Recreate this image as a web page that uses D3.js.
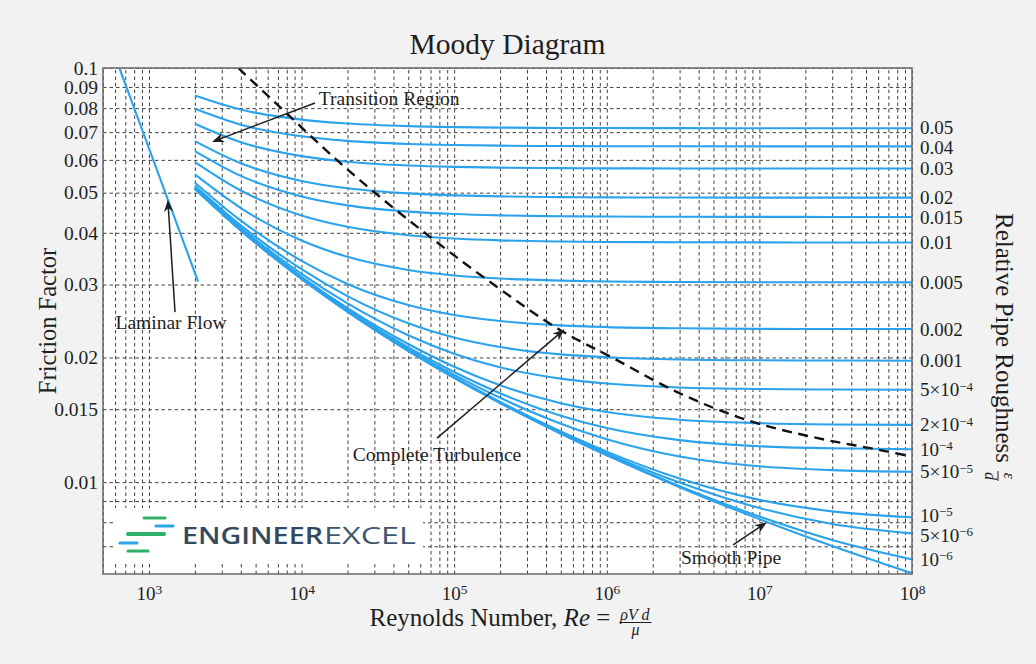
<!DOCTYPE html>
<html>
<head>
<meta charset="utf-8">
<script src="https://cdn.jsdelivr.net/npm/d3@7"></script>
<style>
  html, body { margin: 0; padding: 0; background: #f2f2f2; }
  svg { display: block; }
</style>
</head>
<body>
<svg id="chart" width="1036" height="664"></svg>
<script>
// Reynolds numbers at which the turbulent friction factors are tabulated
const reynolds = [2e3, 4e3, 1e4, 2e4, 5e4, 1e5, 2e5, 5e5, 1e6, 3e6, 1e7, 3e7, 1e8];

// Relative roughness of each turbulent curve (0 = smooth pipe)
const roughness = [0.05, 0.04, 0.03, 0.02, 0.015, 0.01, 0.005, 0.002, 0.001,
                   5e-4, 2e-4, 1e-4, 5e-5, 1e-5, 5e-6, 1e-6, 0];

// Labels written at the right end of each rough-pipe curve
const roughnessLabels = ["0.05", "0.04", "0.03", "0.02", "0.015", "0.01", "0.005",
                         "0.002", "0.001", "5×10^−4", "2×10^−4", "10^−4",
                         "5×10^−5", "10^−5", "5×10^−6", "10^−6"];

// Darcy friction factor of each curve at the Reynolds numbers above
const frictionFactors = [
  [0.08584, 0.07938, 0.07505, 0.07344, 0.07238, 0.07200, 0.07179, 0.07166, 0.07161, 0.07157, 0.07156, 0.07155, 0.07155],
  [0.07972, 0.07298, 0.06840, 0.06669, 0.06556, 0.06515, 0.06493, 0.06479, 0.06473, 0.06470, 0.06468, 0.06467, 0.06467],
  [0.07334, 0.06620, 0.06127, 0.05940, 0.05816, 0.05770, 0.05746, 0.05730, 0.05724, 0.05720, 0.05718, 0.05718, 0.05717],
  [0.06658, 0.05886, 0.05336, 0.05123, 0.04979, 0.04926, 0.04897, 0.04878, 0.04872, 0.04867, 0.04865, 0.04864, 0.04864],
  [0.06302, 0.05489, 0.04895, 0.04659, 0.04499, 0.04439, 0.04407, 0.04386, 0.04378, 0.04372, 0.04370, 0.04369, 0.04369],
  [0.05928, 0.05061, 0.04404, 0.04135, 0.03947, 0.03875, 0.03836, 0.03811, 0.03801, 0.03795, 0.03792, 0.03791, 0.03791],
  [0.05533, 0.04591, 0.03833, 0.03499, 0.03253, 0.03156, 0.03102, 0.03066, 0.03052, 0.03043, 0.03039, 0.03038, 0.03037],
  [0.05283, 0.04280, 0.03422, 0.03010, 0.02677, 0.02533, 0.02449, 0.02390, 0.02368, 0.02352, 0.02345, 0.02343, 0.02342],
  [0.05197, 0.04169, 0.03267, 0.02812, 0.02418, 0.02234, 0.02119, 0.02035, 0.02003, 0.01978, 0.01969, 0.01966, 0.01964],
  [0.05153, 0.04113, 0.03184, 0.02701, 0.02262, 0.02041, 0.01893, 0.01778, 0.01730, 0.01693, 0.01679, 0.01673, 0.01671],
  [0.05127, 0.04078, 0.03133, 0.02631, 0.02155, 0.01899, 0.01713, 0.01551, 0.01477, 0.01415, 0.01388, 0.01378, 0.01375],
  [0.05118, 0.04066, 0.03115, 0.02606, 0.02116, 0.01845, 0.01639, 0.01447, 0.01351, 0.01263, 0.01221, 0.01207, 0.01201],
  [0.05114, 0.04061, 0.03106, 0.02594, 0.02096, 0.01816, 0.01598, 0.01384, 0.01269, 0.01153, 0.01092, 0.01069, 0.01059],
  [0.05110, 0.04056, 0.03099, 0.02584, 0.02080, 0.01792, 0.01562, 0.01325, 0.01185, 0.01020, 0.009059, 0.008500, 0.008224],
  [0.05110, 0.04055, 0.03098, 0.02583, 0.02078, 0.01789, 0.01558, 0.01317, 0.01173, 0.009974, 0.008657, 0.007926, 0.007519],
  [0.05110, 0.04055, 0.03098, 0.02582, 0.02076, 0.01787, 0.01554, 0.01311, 0.01163, 0.009776, 0.008258, 0.007248, 0.006506],
  [0.05109, 0.04055, 0.03097, 0.02581, 0.02076, 0.01786, 0.01553, 0.01309, 0.01161, 0.009724, 0.008142, 0.007013, 0.006026]
];

// Laminar branch end points
const laminarRe = [600, 2100];
const laminarF = [0.1067, 0.03048];

// Boundary of the complete-turbulence zone
const turbulenceRe = [3850, 7560, 17870, 69500, 190900, 494000, 1.1e6, 2.89e6, 8.3e6, 2.25e7, 6.18e7, 9.0e7];
const turbulenceF = [0.1, 0.0792, 0.0590, 0.0391, 0.0296, 0.0233, 0.01993, 0.01650, 0.01412, 0.01284, 0.01195, 0.01162];

// Axis ticks
const yTickValues = [0.1, 0.09, 0.08, 0.07, 0.06, 0.05, 0.04, 0.03, 0.02, 0.015, 0.01];
const yTickLabels = ["0.1", "0.09", "0.08", "0.07", "0.06", "0.05", "0.04", "0.03", "0.02", "0.015", "0.01"];
const yMinorGrid = [0.009, 0.008, 0.007];
const xTickValues = [1e3, 1e4, 1e5, 1e6, 1e7, 1e8];
const xTickExponents = ["3", "4", "5", "6", "7", "8"];

// Annotations: text anchor, arrow tail and arrow tip, all in (Re, f)
const noteText = ["Transition Region", "Laminar Flow", "Complete Turbulence", "Smooth Pipe"];
const noteRe = [37500, 1395, 77200, 6.52e6];
const noteF = [0.0846, 0.02435, 0.01168, 0.00659];
const arrowFromRe = [12250, 1482, 77200, 6.72e6];
const arrowFromF = [0.0823, 0.02574, 0.01277, 0.00705];
const arrowToRe = [2590, 1330, 5.3e5, 1.12e7];
const arrowToF = [0.0663, 0.0481, 0.0234, 0.0080];

// ---------------------------------------------------------------------------
const W = 1036, H = 664;
const M = { left: 103, right: 912, top: 68, bottom: 574 };
const SERIF = "'Liberation Serif', 'DejaVu Serif', serif";
const BLUE = "#2ba3ec";
const INK = "#1e1e1e";

const svg = d3.select("#chart");
svg.append("rect").attr("width", W).attr("height", H).attr("fill", "#f2f2f2");

const x = d3.scaleLog().domain([500, 1e8]).range([M.left, M.right]);
const y = d3.scaleLog().domain([0.006, 0.1]).range([M.bottom, M.top]);

svg.append("defs").append("clipPath").attr("id", "plot-clip")
  .append("rect").attr("x", M.left).attr("y", M.top)
  .attr("width", M.right - M.left).attr("height", M.bottom - M.top);

svg.append("rect").attr("x", M.left).attr("y", M.top)
  .attr("width", M.right - M.left).attr("height", M.bottom - M.top)
  .attr("fill", "#ffffff");

// Dashed grid on every decade multiple and on the labelled friction factors
const gridStyle = g => {
  g.select(".domain").remove();
  g.selectAll(".tick line")
    .attr("stroke", "#404040").attr("stroke-width", 1)
    .attr("stroke-dasharray", "3.5,3");
};
svg.append("g")
  .attr("transform", `translate(0,${M.bottom})`)
  .call(d3.axisBottom(x).tickValues(x.ticks()).tickSize(-(M.bottom - M.top)).tickFormat(""))
  .call(gridStyle);
svg.append("g")
  .attr("transform", `translate(${M.left},0)`)
  .call(d3.axisLeft(y).tickValues(yTickValues.concat(yMinorGrid)).tickSize(-(M.right - M.left)).tickFormat(""))
  .call(gridStyle);

// Logo block in the lower-left corner of the plot
const logo = svg.append("g").attr("transform", `translate(${M.left + 10},${M.bottom - 66})`);
logo.append("rect").attr("width", 310).attr("height", 53).attr("fill", "#ffffff");
const logoBars = [
  { x1: 31, x2: 52, y: 10, c: "#2fb06a", w: 3 },
  { x1: 43, x2: 60, y: 18, c: "#2ea5e8", w: 3.2 },
  { x1: 15, x2: 51, y: 26, c: "#2fb06a", w: 4 },
  { x1: 7, x2: 24, y: 35, c: "#2ea5e8", w: 3.2 },
  { x1: 15, x2: 35, y: 43, c: "#2fb06a", w: 3 }
];
logo.selectAll("line.bar").data(logoBars).join("line")
  .attr("x1", d => d.x1).attr("x2", d => d.x2)
  .attr("y1", d => d.y).attr("y2", d => d.y)
  .attr("stroke", d => d.c).attr("stroke-width", d => d.w).attr("stroke-linecap", "round");
logo.append("text").attr("x", 69).attr("y", 35.5)
  .attr("font-family", "'Open Sans', Lato, sans-serif").attr("font-weight", 600)
  .attr("font-size", 24).attr("fill", "#34495e")
  .attr("textLength", 141).attr("lengthAdjust", "spacingAndGlyphs")
  .text("ENGINEER");
logo.append("text").attr("x", 211).attr("y", 35.5)
  .attr("font-family", "'Open Sans', Lato, sans-serif").attr("font-weight", 400)
  .attr("font-size", 24).attr("fill", "#3e5770")
  .attr("textLength", 92).attr("lengthAdjust", "spacingAndGlyphs")
  .text("EXCEL");

// Curves
const plot = svg.append("g").attr("clip-path", "url(#plot-clip)");
const line = d3.line().x(d => x(d[0])).y(d => y(d[1])).curve(d3.curveMonotoneX);

plot.selectAll("path.turb").data(frictionFactors).join("path")
  .attr("class", "turb")
  .attr("d", fs => line(reynolds.map((re, i) => [re, fs[i]])))
  .attr("fill", "none").attr("stroke", BLUE).attr("stroke-width", 2.1);

plot.append("path")
  .attr("d", line(laminarRe.map((re, i) => [re, laminarF[i]])))
  .attr("fill", "none").attr("stroke", BLUE).attr("stroke-width", 2.1);

plot.append("path")
  .attr("d", line(turbulenceRe.map((re, i) => [re, turbulenceF[i]])))
  .attr("fill", "none").attr("stroke", "#111").attr("stroke-width", 2.4)
  .attr("stroke-dasharray", "10,6.5");

// Annotations with arrows
const notes = svg.append("g");
noteText.forEach((t, i) => {
  const x1 = x(arrowFromRe[i]), y1 = y(arrowFromF[i]);
  const x2 = x(arrowToRe[i]), y2 = y(arrowToF[i]);
  const ang = Math.atan2(y2 - y1, x2 - x1);
  const L = 12, hw = 4.6;
  const ux = Math.cos(ang), uy = Math.sin(ang);
  const bx = x2 - ux * L, by = y2 - uy * L;
  notes.append("line")
    .attr("x1", x1).attr("y1", y1)
    .attr("x2", x2 - ux * 8).attr("y2", y2 - uy * 8)
    .attr("stroke", INK).attr("stroke-width", 1.5);
  const head = [
    [x2, y2],
    [bx - uy * hw, by + ux * hw],
    [x2 - ux * L * 0.72, y2 - uy * L * 0.72],
    [bx + uy * hw, by - ux * hw]
  ];
  notes.append("path").attr("d", "M" + head.map(p => p.join(",")).join("L") + "Z").attr("fill", INK);
  notes.append("text")
    .attr("x", x(noteRe[i])).attr("y", y(noteF[i])).attr("dy", "0.35em")
    .attr("text-anchor", "middle")
    .attr("font-family", SERIF).attr("font-size", 19.5).attr("fill", INK)
    .text(t);
});

// Frame
svg.append("rect").attr("x", M.left).attr("y", M.top)
  .attr("width", M.right - M.left).attr("height", M.bottom - M.top)
  .attr("fill", "none").attr("stroke", "#707070").attr("stroke-width", 1.6);

// Left axis labels
const yAxis = svg.append("g")
  .attr("transform", `translate(${M.left},0)`)
  .call(d3.axisLeft(y).tickValues(yTickValues).tickSize(0).tickPadding(5)
    .tickFormat((d, i) => yTickLabels[i]));
yAxis.select(".domain").remove();
yAxis.selectAll("text").attr("font-family", SERIF).attr("font-size", 19.5).attr("fill", INK);

// Bottom axis labels with powers of ten
const xAxis = svg.append("g")
  .attr("transform", `translate(0,${M.bottom})`)
  .call(d3.axisBottom(x).tickValues(xTickValues).tickSize(0).tickPadding(13).tickFormat(""));
xAxis.select(".domain").remove();
xAxis.selectAll("text").each(function (d, i) {
  const t = d3.select(this)
    .attr("font-family", SERIF).attr("font-size", 19).attr("fill", INK);
  t.append("tspan").text("10");
  t.append("tspan").attr("dy", "-0.45em").attr("font-size", 13.5).text(xTickExponents[i]);
});

// Right-hand roughness labels at the end of each curve, nudged apart where
// neighbouring curve ends sit too close together
const labelY = roughnessLabels.map((lab, i) => y(frictionFactors[i][frictionFactors[i].length - 1]));
const minGap = 20;
for (let pass = 0; pass < 20; pass++) {
  for (let i = 1; i < labelY.length; i++) {
    const gap = labelY[i] - labelY[i - 1];
    if (gap < minGap) {
      const push = (minGap - gap) / 2;
      labelY[i - 1] -= push;
      labelY[i] += push;
    }
  }
}
const rightLabels = svg.append("g");
roughnessLabels.forEach((lab, i) => {
  const t = rightLabels.append("text")
    .attr("x", M.right + 8).attr("y", labelY[i]).attr("dy", "0.34em")
    .attr("font-family", SERIF).attr("font-size", 19).attr("fill", INK);
  const parts = lab.split("^");
  t.append("tspan").text(parts[0]);
  if (parts.length > 1) {
    t.append("tspan").attr("dy", "-0.42em").attr("font-size", 13).text(parts[1]);
  }
});

// Title
svg.append("text")
  .attr("x", (M.left + M.right) / 2).attr("y", 54)
  .attr("text-anchor", "middle")
  .attr("font-family", SERIF).attr("font-size", 29.5).attr("fill", INK)
  .text("Moody Diagram");

// Left axis title
svg.append("text")
  .attr("transform", `translate(56,${(M.top + M.bottom) / 2}) rotate(-90)`)
  .attr("text-anchor", "middle")
  .attr("font-family", SERIF).attr("font-size", 24.5).attr("fill", INK)
  .text("Friction Factor");

// Bottom axis title: Reynolds Number, Re = ρVd/μ
const xt = svg.append("g");
const xtText = xt.append("text")
  .attr("font-family", SERIF).attr("font-size", 25).attr("fill", INK);
xtText.append("tspan").text("Reynolds Number, ");
xtText.append("tspan").attr("font-style", "italic").text("Re");
xtText.append("tspan").text(" = ");
const wMain = xtText.node().getComputedTextLength();
const frac = xt.append("g").attr("transform", `translate(${wMain + 10},0)`);
const num = frac.append("text").attr("y", -6)
  .attr("font-family", SERIF).attr("font-size", 16).attr("font-style", "italic").attr("fill", INK)
  .text("ρV d");
const wNum = num.node().getComputedTextLength();
frac.append("line").attr("x1", -1).attr("x2", wNum + 2).attr("y1", -3.5).attr("y2", -3.5)
  .attr("stroke", INK).attr("stroke-width", 1);
frac.append("text").attr("x", (wNum + 1) / 2).attr("y", 9).attr("text-anchor", "middle")
  .attr("font-family", SERIF).attr("font-size", 16).attr("font-style", "italic").attr("fill", INK)
  .text("μ");
const totalW = wMain + 12 + wNum;
xt.attr("transform", `translate(${(M.left + M.right) / 2 + 3 - totalW / 2},626)`);

// Right axis title: Relative Pipe Roughness ε/d
const rt = svg.append("g").attr("transform", `translate(996,213) rotate(90)`);
const rtText = rt.append("text")
  .attr("font-family", SERIF).attr("font-size", 25).attr("fill", INK)
  .text("Relative Pipe Roughness");
const wR = rtText.node().getComputedTextLength();
const rf = rt.append("g").attr("transform", `translate(${wR + 8},0)`);
rf.append("text").attr("x", 5).attr("y", -8).attr("text-anchor", "middle")
  .attr("font-family", SERIF).attr("font-size", 16).attr("font-style", "italic").attr("fill", INK)
  .text("ε");
rf.append("line").attr("x1", 0).attr("x2", 10).attr("y1", -2).attr("y2", -2)
  .attr("stroke", INK).attr("stroke-width", 1);
rf.append("text").attr("x", 5).attr("y", 11).attr("text-anchor", "middle")
  .attr("font-family", SERIF).attr("font-size", 16).attr("font-style", "italic").attr("fill", INK)
  .text("d");
</script>
</body>
</html>
